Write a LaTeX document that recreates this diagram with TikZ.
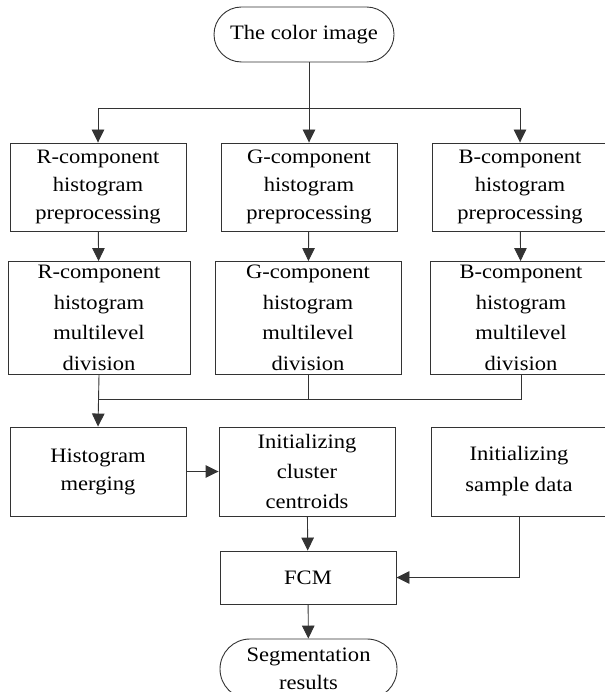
\documentclass[tikz,border=0pt]{standalone}
\usepackage{fontspec}
\setmainfont{Liberation Serif}[FakeStretch=1.1]
\usetikzlibrary{arrows.meta,shapes.misc}

\tikzset{
  box/.style={draw=black!80,line width=0.9pt,rectangle,minimum width=176pt,minimum height=88pt,
    align=center,inner sep=0pt,font=\fontsize{20.5}{28}\selectfont},
  term/.style={box,rounded rectangle,minimum width=180pt,minimum height=55pt},
  arr/.style={draw=black!80,line width=0.9pt,-{Triangle[length=13pt,width=12.5pt]}},
  ln/.style={draw=black!80,line width=0.9pt}
}

\begin{document}
\begin{tikzpicture}[x=1pt,y=-1pt]
	\useasboundingbox (0,0) rectangle (604,692);
	% start
	\node[term] (img) at (304,34.5) {The color image};
	% preprocessing
	\node[box] (preR) at (98,187) {R-component\\histogram\\preprocessing};
	\node[box] (preG) at (309,187) {G-component\\histogram\\preprocessing};
	\node[box] (preB) at (520,187) {B-component\\histogram\\preprocessing};
	% multilevel division
	\node[box,minimum width=182pt,minimum height=113pt,font=\fontsize{20.5}{30.5}\selectfont] (divR) at (99,318) {R-component\\histogram\\multilevel\\division};
	\node[box,minimum width=186pt,minimum height=113pt,font=\fontsize{20.5}{30.5}\selectfont] (divG) at (308,318) {G-component\\histogram\\multilevel\\division};
	\node[box,minimum width=182pt,minimum height=113pt,font=\fontsize{20.5}{30.5}\selectfont] (divB) at (521,318) {B-component\\histogram\\multilevel\\division};
	% merging and initialization
	\node[box,minimum height=89pt] (merge) at (98,471.5) {Histogram\\merging};
	\node[box,minimum height=89pt,font=\fontsize{20.5}{30}\selectfont] (cent) at (307,471.5) {Initializing\\cluster\\centroids};
	\node[box,minimum height=89pt,font=\fontsize{20.5}{31}\selectfont] (samp) at (519,471.5) {Initializing\\sample data};
	\node[box,minimum height=53pt] (fcm) at (308,577.5) {FCM};
	% end
	\node[term,minimum width=177pt,minimum height=60pt] (seg) at (308.5,669) {Segmentation\\results};

	\coordinate (split) at (309,108);
	\coordinate (join) at (99,399);
	\draw[arr] (img.south -| preG.north) -- (preG.north);
	\draw[arr] (split) -| (preR.north);
	\draw[arr] (split) -| (preB.north);
	\draw[arr] (preR) -- (divR);
	\draw[arr] (preG) -- (divG);
	\draw[arr] (preB) -- (divB);
	\draw[ln] (divB.south) |- (join);
	\draw[ln] (divG.south) -- (divG.south |- join);
	\draw[arr] (divR.south) -- (merge.north);
	\draw[arr] (merge) -- (cent);
	\draw[arr] (cent) -- (fcm);
	\draw[arr] (samp.south) |- (fcm.east);
	\draw[arr] (fcm) -- (seg);
\end{tikzpicture}
\end{document}
